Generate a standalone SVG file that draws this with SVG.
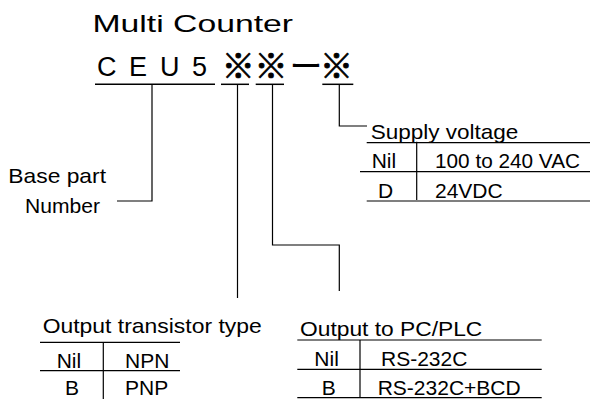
<svg xmlns="http://www.w3.org/2000/svg" width="595" height="399" viewBox="0 0 595 399">
<style>
text{font-family:"Liberation Sans",Arial,sans-serif;fill:#000}
.lbl{font-size:21px}
.code{font-size:27px}
.cjk{font-family:"Noto Sans CJK JP","Liberation Sans",sans-serif;font-size:33px}
.mark{stroke:#000;stroke-width:0.8}
.ln{stroke:#000;stroke-width:1.2;fill:none}
.ul{stroke:#000;stroke-width:1.5;fill:none}
</style>
<rect width="595" height="399" fill="#fff"/>
<g id="title">
<text x="92.5" y="32" font-size="24" textLength="200.5" lengthAdjust="spacingAndGlyphs">Multi Counter</text>
</g>
<g id="code">
<text class="code" x="97" y="76">C</text>
<text class="code" x="129" y="76">E</text>
<text class="code" x="160" y="76">U</text>
<text class="code" x="192" y="76">5</text>
<text class="cjk mark" x="221.7" y="77.5">※</text>
<text class="cjk mark" x="254.4" y="77.5">※</text>
<text class="cjk" x="289.5" y="77.5" font-size="29">ー</text>
<text class="cjk mark" x="320" y="77.5">※</text>
<line class="ul" x1="95" y1="84.3" x2="215" y2="84.3"/>
<line class="ul" x1="221" y1="84.3" x2="249" y2="84.3"/>
<line class="ul" x1="255.7" y1="84.3" x2="284" y2="84.3"/>
<line class="ul" x1="322.3" y1="84.3" x2="353.3" y2="84.3"/>
</g>
<g id="connectors">
<polyline class="ln" points="152,84.3 152,201 117,201"/>
<polyline class="ln" points="237.5,84.3 237.5,298"/>
<polyline class="ln" points="272.5,84.3 272.5,245 339.3,245 339.3,291"/>
<polyline class="ln" points="339.3,84.3 339.3,126 367,126"/>
</g>
<g id="base-part">
<text class="lbl" x="8.3" y="183.3" textLength="97.7" lengthAdjust="spacingAndGlyphs">Base part</text>
<text class="lbl" x="25" y="213" textLength="75" lengthAdjust="spacingAndGlyphs">Number</text>
</g>
<g id="supply-voltage">
<text class="lbl" x="370.7" y="139" textLength="147.7" lengthAdjust="spacingAndGlyphs">Supply voltage</text>
<line class="ln" x1="366.7" y1="142.7" x2="590" y2="142.7"/>
<line class="ln" x1="360" y1="171.7" x2="590" y2="171.7"/>
<line class="ln" x1="366.7" y1="201" x2="590" y2="201"/>
<line class="ln" x1="416.7" y1="141.7" x2="416.7" y2="200"/>
<text class="lbl" x="371.7" y="168.3">Nil</text>
<text class="lbl" x="435" y="168.3" textLength="145" lengthAdjust="spacingAndGlyphs">100 to 240 VAC</text>
<text class="lbl" x="378" y="198">D</text>
<text class="lbl" x="435" y="198">24VDC</text>
</g>
<g id="output-transistor">
<text class="lbl" x="42.7" y="333.3" textLength="219" lengthAdjust="spacingAndGlyphs">Output transistor type</text>
<line class="ln" x1="40" y1="342.3" x2="180" y2="342.3"/>
<line class="ln" x1="40" y1="370.7" x2="180" y2="370.7"/>
<line class="ln" x1="103.3" y1="342.3" x2="103.3" y2="399"/>
<text class="lbl" x="56.7" y="368.3">Nil</text>
<text class="lbl" x="125" y="368.3">NPN</text>
<text class="lbl" x="65" y="395">B</text>
<text class="lbl" x="125" y="395">PNP</text>
</g>
<g id="output-pc">
<text class="lbl" x="300" y="336" textLength="182.3" lengthAdjust="spacingAndGlyphs">Output to PC/PLC</text>
<line class="ln" x1="297.3" y1="340" x2="541.7" y2="340"/>
<line class="ln" x1="297.3" y1="369.3" x2="541.7" y2="369.3"/>
<line class="ln" x1="297.3" y1="397.7" x2="541.7" y2="397.7"/>
<line class="ln" x1="360" y1="340" x2="360" y2="397.7"/>
<text class="lbl" x="314.3" y="366">Nil</text>
<text class="lbl" x="381" y="366">RS-232C</text>
<text class="lbl" x="321.7" y="395">B</text>
<text class="lbl" x="377.7" y="395">RS-232C+BCD</text>
</g>
</svg>
